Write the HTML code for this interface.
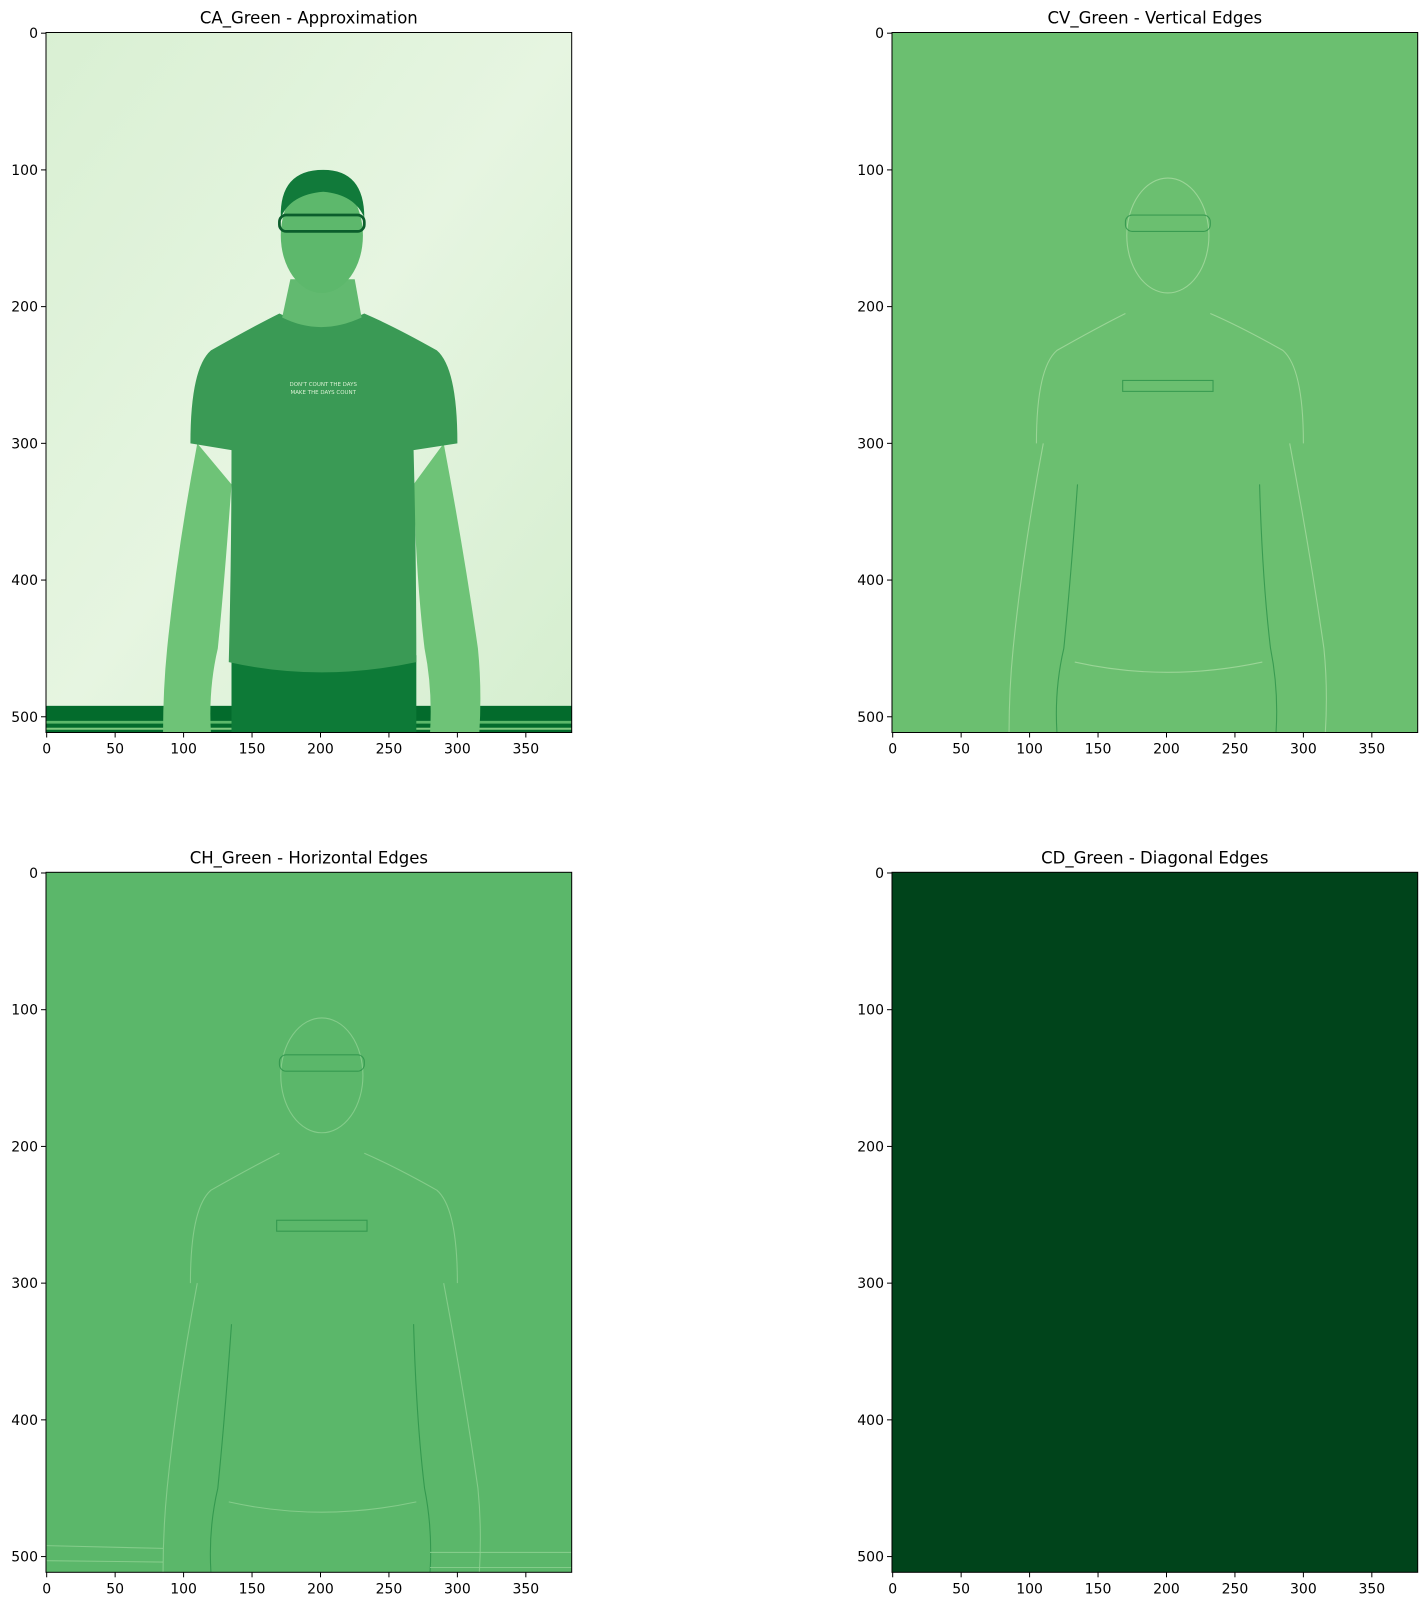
<!DOCTYPE html>
<html><head><meta charset="utf-8"><style>
html,body{margin:0;padding:0;background:#fff;}
svg{display:block;font-family:"DejaVu Sans","Liberation Sans",sans-serif;}
</style></head><body>
<svg id="fig" width="1426" height="1606" viewBox="0 0 1426 1606" xmlns="http://www.w3.org/2000/svg">
<defs>
<linearGradient id="caBg" x1="0" y1="0" x2="1" y2="1">
<stop offset="0" stop-color="#d9f0d3"/><stop offset="0.5" stop-color="#e6f5e1"/><stop offset="1" stop-color="#d5eecf"/>
</linearGradient>
</defs>
</svg>
<script>
const xTicks = [0, 50, 100, 150, 200, 250, 300, 350];
const yTicks = [0, 100, 200, 300, 400, 500];
const titles = ["CA_Green - Approximation", "CV_Green - Vertical Edges", "CH_Green - Horizontal Edges", "CD_Green - Diagonal Edges"];
const panelNames = ["approximation", "vertical-edges", "horizontal-edges", "diagonal-edges"];
const imgW = 384, imgH = 512;
const NS = "http://www.w3.org/2000/svg";
const fig = document.getElementById('fig');
const boxes = [[46,32.5],[892,32.5],[46,872.3],[892,872.3]];
const BW = 525.7, BH = 700;
function mk(tag, attrs, parent){const e=document.createElementNS(NS,tag);for(const k in attrs)e.setAttribute(k,attrs[k]);(parent||fig).appendChild(e);return e;}

function person(g, mode){
  // mode: 'ca' filled, 'edge' outlines
  if(mode==='ca'){
    mk('rect',{x:-0.5,y:492,width:384,height:20,fill:'#036b2c'},g);
    mk('rect',{x:-0.5,y:503,width:384,height:2,fill:'#5cb86a'},g);
    mk('rect',{x:-0.5,y:508,width:384,height:1.5,fill:'#7fc97f'},g);
    // pants
    mk('path',{d:'M135 455 L270 455 L270 512 L135 512 Z',fill:'#0d7a37'},g);
    // arms
    mk('path',{d:'M110 300 Q95 380 88 450 Q85 480 85 512 L120 512 Q118 480 125 450 Q130 400 135 330 Z',fill:'#6ec377'},g);
    mk('path',{d:'M290 300 Q305 380 315 450 Q318 480 316 512 L280 512 Q282 480 276 450 Q270 400 268 330 Z',fill:'#6ec377'},g);
    // shirt
    mk('path',{d:'M170 205 Q150 215 120 232 Q105 245 105 300 L135 305 Q135 380 133 460 Q200 475 270 460 Q270 380 268 305 L300 300 Q300 245 285 232 Q255 215 232 205 Q200 220 170 205 Z',fill:'#3a9a55'},g);
    // neck
    mk('path',{d:'M178 180 L225 180 L230 208 Q200 222 172 208 Z',fill:'#62ba70'},g);
    // head
    mk('ellipse',{cx:201,cy:148,rx:30,ry:42,fill:'#5db86c'},g);
    mk('path',{d:'M171 135 Q170 100 202 100 Q232 100 232 135 Q225 118 202 116 Q178 118 171 135 Z',fill:'#117a3a'},g);
    mk('rect',{x:170,y:133,width:62,height:12,rx:5,fill:'none',stroke:'#0b5e2c','stroke-width':2},g);
    mk('text',{x:202,y:258,'font-size':4,fill:'#d8f0d2','text-anchor':'middle'},g).textContent="DON'T COUNT THE DAYS";
    mk('text',{x:202,y:264,'font-size':4,fill:'#d8f0d2','text-anchor':'middle'},g).textContent="MAKE THE DAYS COUNT";
  } else {
    const st={fill:'none',stroke:mode==='v'?'#a6dba0':'#8fd192','stroke-width':0.8,opacity:0.8};
    const dk={fill:'none',stroke:'#238b45','stroke-width':0.8,opacity:0.7};
    mk('ellipse',Object.assign({cx:201,cy:148,rx:30,ry:42},st),g);
    mk('rect',Object.assign({x:170,y:133,width:62,height:12,rx:5},dk),g);
    mk('path',Object.assign({d:'M170 205 Q150 215 120 232 Q105 245 105 300 M232 205 Q255 215 285 232 Q300 245 300 300'},st),g);
    mk('path',Object.assign({d:'M110 300 Q95 380 88 450 Q85 480 85 512 M290 300 Q305 380 315 450 Q318 480 316 512'},st),g);
    mk('path',Object.assign({d:'M135 330 Q130 400 125 450 Q118 480 120 512 M268 330 Q270 400 276 450 Q282 480 280 512'},dk),g);
    mk('path',Object.assign({d:'M133 460 Q200 475 270 460'},st),g);
    mk('rect',Object.assign({x:168,y:254,width:66,height:8},dk),g);
    if(mode==='h'){
      mk('path',Object.assign({d:'M0 492 L85 494 M0 503 L85 504 M280 497 L384 497 M280 508 L384 508'},st),g);
    }
  }
}

boxes.forEach((b,i)=>{
  const [ox,oy]=b;
  const sx=BW/imgW, sy=BH/imgH;
  const X=v=>ox+(v+0.5)*sx, Y=v=>oy+(v+0.5)*sy;
  const panel=mk('g',{});
  
  
  const img=mk('svg',{x:ox,y:oy,width:BW,height:BH,viewBox:'-0.5 -0.5 384 512',preserveAspectRatio:'none'},panel);
  
  
  const fills=['url(#caBg)','#6bbf70','#5bb76a','#00441b'];
  mk('rect',{x:-0.5,y:-0.5,width:384,height:512,fill:fills[i]},img);
  if(i===0)person(img,'ca'); else if(i===1)person(img,'v'); else if(i===2)person(img,'h');
  const frame=mk('rect',{x:ox,y:oy,width:BW,height:BH,fill:'none',stroke:'#000','stroke-width':1},panel);
  
  
  const t=mk('text',{x:ox+BW/2,y:oy-9,'font-size':16.5,'text-anchor':'middle',fill:'#000'},panel);
  t.textContent=titles[i];
  
  
  xTicks.forEach(v=>{
    mk('line',{x1:X(v),x2:X(v),y1:oy+BH,y2:oy+BH+5,stroke:'#000','stroke-width':1},panel);
    const l=mk('text',{x:X(v),y:oy+BH+21,'font-size':14,'text-anchor':'middle'},panel);
    l.textContent=v;
    
    
  });
  yTicks.forEach(v=>{
    mk('line',{x1:ox-5,x2:ox,y1:Y(v),y2:Y(v),stroke:'#000','stroke-width':1},panel);
    const l=mk('text',{x:ox-8,y:Y(v)+5,'font-size':14,'text-anchor':'end'},panel);
    l.textContent=v;
    
    
  });
});
</script>
</body></html>
